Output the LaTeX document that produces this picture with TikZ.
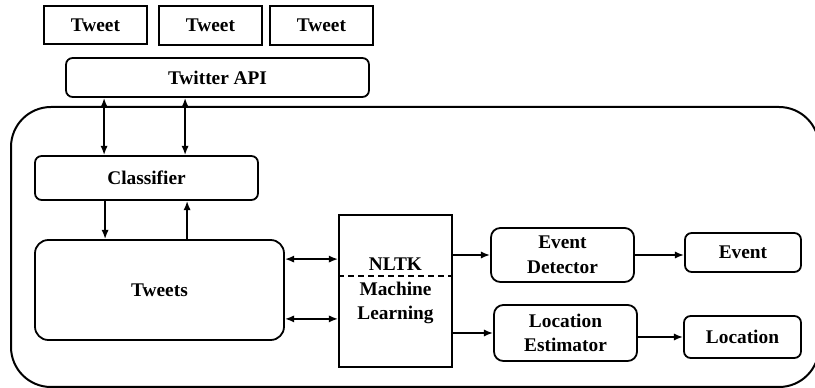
\documentclass[tikz,border=0pt]{standalone}
\usepackage{fontspec}
\setmainfont{Liberation Serif}
\usetikzlibrary{calc,positioning,arrows.meta,arrows}
\tikzset{
sqbox/.style={
  draw,
  line width=1.35pt,
  inner sep=0pt,
  align=center,
  font=\fontsize{14.5}{18.5}\selectfont\bfseries
  },
rdbox/.style={
  sqbox,
  rounded corners=5pt
  },
link/.style={line width=1.3pt}
}
\begin{document}
\begin{tikzpicture}[>={Latex[length=7pt,width=5.5pt]},x=0.75pt,y=-0.75pt]
            \useasboundingbox (0,0) rectangle (815,388);
            \clip (0,0) rectangle (815,388);
            % outer system frame
            \draw[line width=1.5pt,rounded corners=30pt] (11,107) rectangle (819,387);
            % incoming tweets
            \node[sqbox,minimum width=77.25pt,minimum height=28.5pt] (tw1) at (95.5,25) {Tweet};
            \node[sqbox,minimum width=77.25pt,minimum height=29.25pt] (tw2) at (210.5,25.5) {Tweet};
            \node[sqbox,minimum width=77.25pt,minimum height=29.25pt] (tw3) at (321.5,25.5) {Tweet};
            \node[rdbox,minimum width=227.25pt,minimum height=29.25pt] (api) at (217.5,77.5) {Twitter API};
            \node[rdbox,minimum width=167.25pt,minimum height=33pt] (clf) at (146.5,178) {Classifier};
            \node[rdbox,rounded corners=10pt,minimum width=186.75pt,minimum height=75pt] (store) at (159.5,290) {Tweets};
            \node[sqbox,minimum width=84.75pt,minimum height=114pt] (nltk) at (395.5,291) {NLTK\\Machine\\Learning};
            \coordinate (dsh) at (0,276);
            \draw[line width=1.3pt,dash pattern=on 4.5pt off 3pt] (nltk.west |- dsh) -- (nltk.east |- dsh);
            \node[rdbox,rounded corners=7pt,minimum width=107.25pt,minimum height=40.5pt] (det) at (562.5,255) {Event\\Detector};
            \node[rdbox,minimum width=87pt,minimum height=29.25pt] (evt) at (743,252.5) {Event};
            \node[rdbox,rounded corners=7pt,minimum width=107.25pt,minimum height=42pt] (est) at (565.5,333) {Location\\Estimator};
            \node[rdbox,minimum width=87.75pt,minimum height=31.5pt] (loc) at (742.5,337) {Location};
            % connectors
            \draw[link,<->] ([xshift=52.5pt]clf.north west) -- ([xshift=52.5pt]clf.north west |- api.south);
            \draw[link,<->] ([xshift=113.25pt]clf.north west) -- ([xshift=113.25pt]clf.north west |- api.south);
            \draw[link,->] ([xshift=53.25pt]clf.south west) -- ([xshift=53.25pt]clf.south west |- store.north);
            \draw[link,->] ([xshift=114.75pt]clf.south west |- store.north) -- ([xshift=114.75pt]clf.south west);
            \draw[link,<->] ([yshift=-15pt]store.north east) -- ([yshift=-15pt]store.north east -| nltk.west);
            \draw[link,<->] ([yshift=16.5pt]store.south east) -- ([yshift=16.5pt]store.south east -| nltk.west);
            \draw[link,->] (nltk.east |- det.west) -- (det.west);
            \draw[link,->] (nltk.east |- est.west) -- (est.west);
            \draw[link,->] (det.east) -- (evt.west |- det.east);
            \draw[link,->] (est.east |- loc.west) -- (loc.west);
        \end{tikzpicture}
\end{document}
